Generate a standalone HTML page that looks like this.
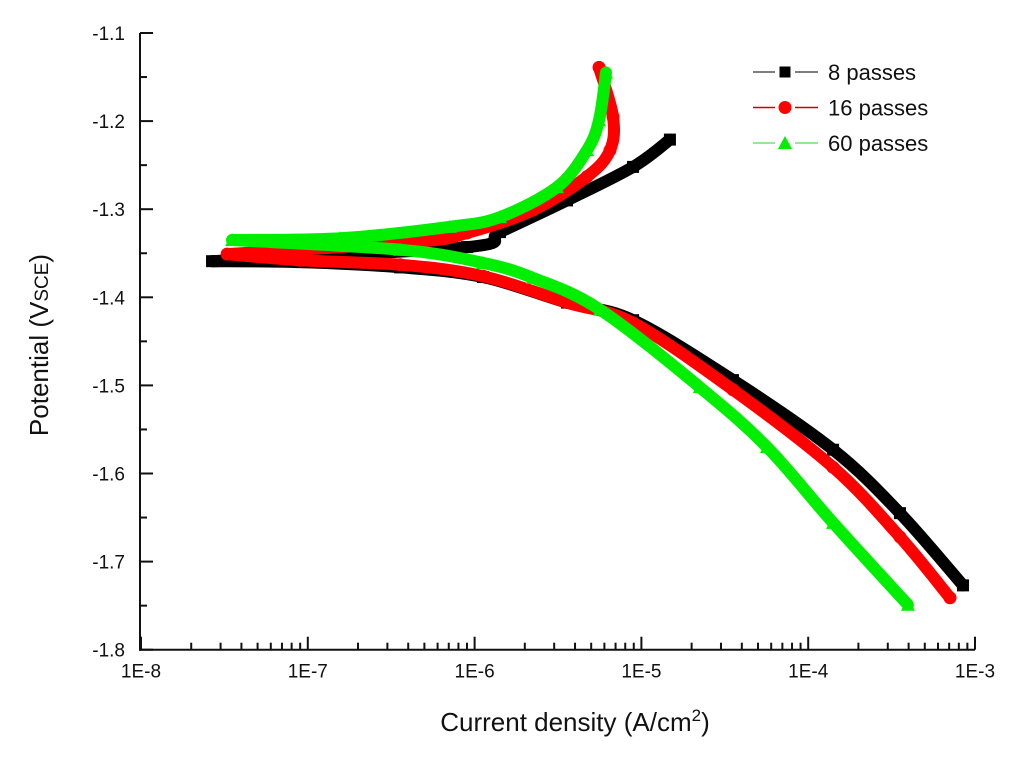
<!DOCTYPE html>
<html><head><meta charset="utf-8"><style>
body{margin:0;background:#fff;}
svg{display:block;font-family:"Liberation Sans",sans-serif;}
</style></head><body>
<svg id="chart" width="1024" height="760" viewBox="0 0 1024 760">
<g id="axes"></g>
<g id="series"></g>
<g id="legend"></g>
<text x="48" y="345" font-size="26" text-anchor="middle" transform="rotate(-90 48 345)" fill="#111">Potential (V<tspan font-size="19">SCE</tspan>)</text>
<text x="575" y="731" font-size="26" text-anchor="middle" fill="#111">Current density (A/cm<tspan font-size="17" dy="-10">2</tspan><tspan dy="10">)</tspan></text>
</svg>
<script>
const xTickLabels = ["1E-8","1E-7","1E-6","1E-5","1E-4","1E-3"];
const yTickValues = [-1.1,-1.2,-1.3,-1.4,-1.5,-1.6,-1.7,-1.8];
const seriesNames = ["8 passes","16 passes","60 passes"];
// log10 of current density (A/cm2) and potential (V)
const logI8 = [-3.072,-3.450,-3.851,-4.451,-5.050,-5.446,-5.950,-6.447,-7.047,-7.574,-6.046,-5.848,-5.446,-5.050,-4.829];
const pot8  = [-1.727,-1.645,-1.573,-1.494,-1.426,-1.406,-1.377,-1.366,-1.360,-1.359,-1.343,-1.326,-1.290,-1.252,-1.221];
const logI16 = [-3.150,-3.450,-3.851,-4.451,-5.050,-5.446,-5.950,-6.447,-7.047,-7.484,-6.345,-6.046,-5.650,-5.326,-5.188,-5.170,-5.254];
const pot16  = [-1.741,-1.672,-1.593,-1.505,-1.429,-1.406,-1.376,-1.363,-1.358,-1.351,-1.337,-1.327,-1.301,-1.263,-1.233,-1.195,-1.139];
const logI60 = [-3.402,-3.851,-4.247,-4.650,-5.248,-5.650,-5.950,-6.447,-7.454,-6.807,-6.148,-5.848,-5.506,-5.326,-5.254,-5.212];
const pot60  = [-1.749,-1.656,-1.570,-1.502,-1.414,-1.378,-1.361,-1.346,-1.335,-1.333,-1.320,-1.309,-1.275,-1.233,-1.199,-1.145];

const NS="http://www.w3.org/2000/svg";
const X0=141,DEC=166.8,Y0=33,YS=881;
function xs(l){return X0+(l+8)*DEC;}
function ys(v){return Y0+(-1.1-v)*YS;}
function mk(tag,attrs,parent){const e=document.createElementNS(NS,tag);for(const k in attrs)e.setAttribute(k,attrs[k]);parent.appendChild(e);return e;}
const axes=document.getElementById('axes');
let e=mk('line',{x1:140,y1:ys(-1.1),x2:140,y2:ys(-1.8)+1,stroke:'#111','stroke-width':2},axes);


e=mk('line',{x1:139,y1:ys(-1.8),x2:xs(-3),y2:ys(-1.8),stroke:'#111','stroke-width':2},axes);


yTickValues.forEach((v,i)=>{
  const y=ys(v);
  mk('line',{x1:140,y1:y,x2:153,y2:y,stroke:'#111','stroke-width':2},axes);
  if(i<yTickValues.length-1){const ym=ys(v-0.05);mk('line',{x1:140,y1:ym,x2:147,y2:ym,stroke:'#111','stroke-width':2},axes);}
  const t=mk('text',{x:125,y:y+7,'font-size':19,'text-anchor':'end',fill:'#111'},axes);
  t.textContent=v.toFixed(1);
  
  
});
const yb=ys(-1.8);
xTickLabels.forEach((lab,i)=>{
  const x=xs(-8+i);
  mk('line',{x1:x,y1:yb,x2:x,y2:yb-13,stroke:'#111','stroke-width':2},axes);
  if(i<xTickLabels.length-1){for(let m=2;m<=9;m++){const xm=xs(-8+i+Math.log10(m));mk('line',{x1:xm,y1:yb,x2:xm,y2:yb-7,stroke:'#111','stroke-width':2},axes);}}
  const t=mk('text',{x:x,y:yb+28,'font-size':19,'text-anchor':'middle',fill:'#111'},axes);
  t.textContent=lab;
  
  
});
function marker(type,x,y,color,parent,s){
  if(type==='sq')return mk('rect',{x:x-s/2,y:y-s/2,width:s,height:s,fill:color},parent);
  if(type==='ci')return mk('circle',{cx:x,cy:y,r:s/2+0.5,fill:color},parent);
  return mk('polygon',{points:`${x},${y-s/2-1} ${x-s/2-1},${y+s/2} ${x+s/2+1},${y+s/2}`,fill:color},parent);
}
function smoothPath(p){
  let d=`M${p[0][0]},${p[0][1]}`;
  for(let i=0;i<p.length-1;i++){
    const p0=p[Math.max(0,i-1)],p1=p[i],p2=p[i+1],p3=p[Math.min(p.length-1,i+2)];
    const c1=[p1[0]+(p2[0]-p0[0])/6,p1[1]+(p2[1]-p0[1])/6];
    const c2=[p2[0]-(p3[0]-p1[0])/6,p2[1]-(p3[1]-p1[1])/6];
    d+=` C${c1[0].toFixed(1)},${c1[1].toFixed(1)} ${c2[0].toFixed(1)},${c2[1].toFixed(1)} ${p2[0].toFixed(1)},${p2[1].toFixed(1)}`;
  }
  return d;
}
const sg=document.getElementById('series');
const defs=[[logI8,pot8,'#000','sq','series-8-passes'],[logI16,pot16,'#f00','ci','series-16-passes'],[logI60,pot60,'#0e0','tr','series-60-passes']];
defs.forEach(([lx,py,c,m,name])=>{
  const g=mk('g',{},sg);
  
  
  const pts=lx.map((l,i)=>[xs(l),ys(py[i])]);
  let k=0;lx.forEach((l,i)=>{if(l<lx[k])k=i;});
  mk('path',{d:smoothPath(pts.slice(0,k+1)),fill:'none',stroke:c,'stroke-width':12,'stroke-linejoin':'round','stroke-linecap':'round'},g);
  mk('path',{d:smoothPath(pts.slice(k)),fill:'none',stroke:c,'stroke-width':12,'stroke-linejoin':'round','stroke-linecap':'round'},g);
  lx.forEach((l,i)=>{const p=marker(m,xs(l),ys(py[i]),c,g,12);
    
    });
});
const lg=document.getElementById('legend');
const lm=[['#000','sq','#555'],['#f00','ci','#c00'],['#0e0','tr','#7d7']];
seriesNames.forEach((n,i)=>{
  const y=72+i*35.5;
  const g=mk('g',{},lg);
  
  
  mk('line',{x1:753,y1:y,x2:818,y2:y,stroke:lm[i][2],'stroke-width':1.5},g);
  mk('rect',{x:775,y:y-6,width:20,height:12,fill:'#fff'},g);
  marker(lm[i][1],785,y,lm[i][0],g,i===0?11:12);
  const t=mk('text',{x:828,y:y+8,'font-size':22,fill:'#111'},g);
  t.textContent=n;
});
</script>
</body></html>
